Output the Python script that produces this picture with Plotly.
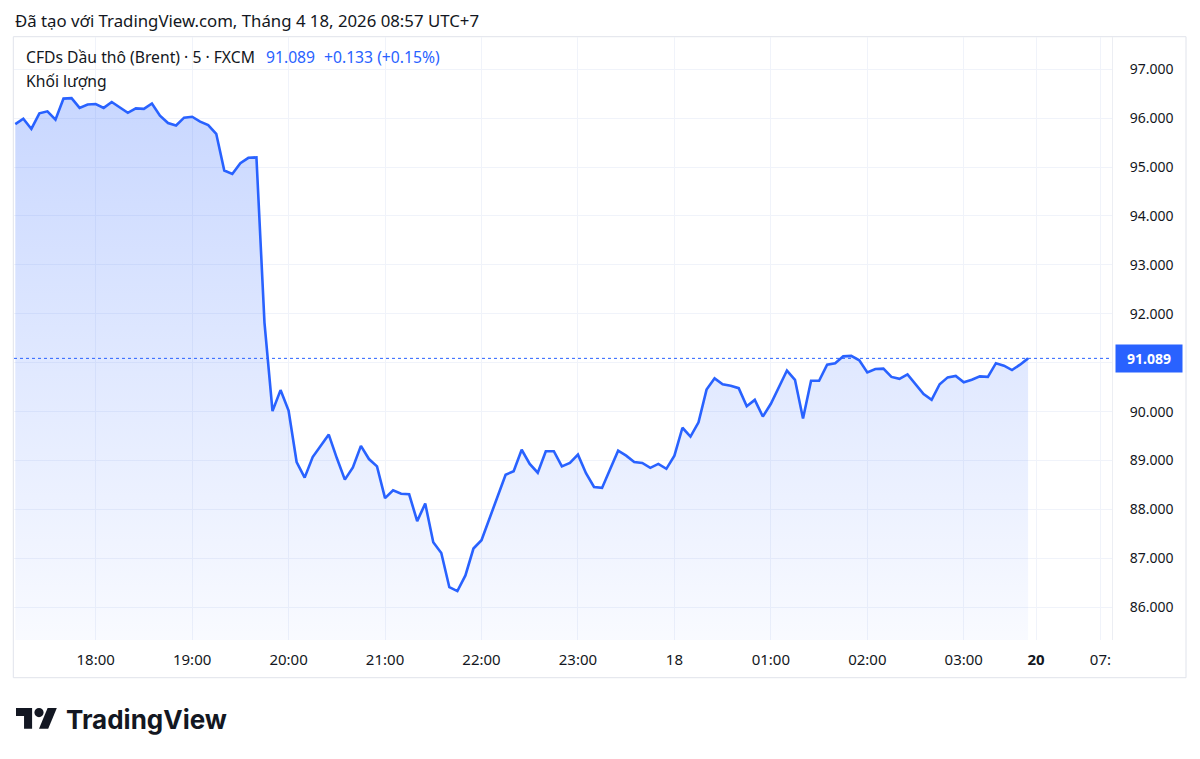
import pandas as pd
import plotly.graph_objects as go

# ---------------- data ----------------
start_time = "2026-04-17 17:10"   # first 5-minute bar
bar_minutes = 5
prices = [
    95.88, 95.99, 95.78, 96.10, 96.14, 95.97, 96.40, 96.41, 96.21, 96.28,
    96.29, 96.21, 96.33, 96.22, 96.11, 96.20, 96.19, 96.30, 96.05, 95.90,
    95.85, 96.01, 96.03, 95.93, 95.86, 95.68, 94.93, 94.86, 95.08, 95.19,
    95.20, 91.82, 90.01, 90.44, 90.02, 88.97, 88.65, 89.07, 89.29, 89.53,
    89.05, 88.61, 88.86, 89.30, 89.03, 88.88, 88.23, 88.39, 88.32, 88.31,
    87.76, 88.12, 87.33, 87.11, 86.41, 86.33, 86.65, 87.20, 87.37, 87.82,
    88.26, 88.71, 88.78, 89.22, 88.93, 88.75, 89.19, 89.19, 88.88, 88.95,
    89.12, 88.74, 88.46, 88.44, 88.82, 89.20, 89.10, 88.97, 88.95, 88.85,
    88.93, 88.83, 89.10, 89.67, 89.49, 89.78, 90.45, 90.68, 90.56, 90.53,
    90.48, 90.11, 90.24, 89.90, 90.16, 90.51, 90.84, 90.65, 89.86, 90.63,
    90.63, 90.96, 90.99, 91.13, 91.14, 91.05, 90.80, 90.87, 90.88, 90.71,
    90.67, 90.76, 90.56, 90.36, 90.24, 90.56, 90.70, 90.73, 90.60, 90.65,
    90.72, 90.71, 90.99, 90.94, 90.85, 90.96, 91.089,
]
last_price = 91.089
change_text = "+0.133 (+0.15%)"

# time-axis ticks (TradingView compresses the weekend gap: "20" = Monday)
tick_times = [
    "2026-04-17 18:00", "2026-04-17 19:00", "2026-04-17 20:00",
    "2026-04-17 21:00", "2026-04-17 22:00", "2026-04-17 23:00",
    "2026-04-18 00:00", "2026-04-18 01:00", "2026-04-18 02:00",
    "2026-04-18 03:00", "2026-04-18 03:45", "2026-04-18 04:25",
]
tick_labels = ["18:00", "19:00", "20:00", "21:00", "22:00", "23:00",
               "18", "01:00", "02:00", "03:00", "<b>20</b>", "07:"]
price_ticks = [86, 87, 88, 89, 90, 91, 92, 93, 94, 95, 96, 97]
# the 91.000 label is hidden behind the last-price label in the reference
price_labels = ["86.000", "87.000", "88.000", "89.000", "90.000", "",
                "92.000", "93.000", "94.000", "95.000", "96.000", "97.000"]

header = "Đã tạo với TradingView.com, Tháng 4 18, 2026 08:57 UTC+7"
legend_title = "CFDs Dầu thô (Brent) · 5 · FXCM"
volume_label = "Khối lượng"

# ---------------- styling ----------------
W, H = 1200, 759
L, R, T, B = 14, 1112, 37, 640          # plot area in pixels
BLUE = "#2962FF"
TEXT = "#131722"
FONT = "Noto Sans"

times = pd.date_range(start_time, periods=len(prices), freq=f"{bar_minutes}min")
x0 = pd.Timestamp(start_time) - pd.Timedelta(minutes=0.8)
x1 = x0 + pd.Timedelta(minutes=683.0)


def px(x):
    return (x - L) / (R - L)


def py(y):
    return (B - y) / (B - T)


fig = go.Figure()
fig.add_trace(go.Scatter(
    x=times, y=prices, mode="lines",
    line=dict(color=BLUE, width=2.6),
    fill="tozeroy",
    fillgradient=dict(type="vertical", start=85.33, stop=97.66,
                      colorscale=[[0, "rgba(41,98,255,0.03)"],
                                  [1, "rgba(41,98,255,0.28)"]]),
    hoverinfo="skip", showlegend=False,
))

shapes = [
    # outer frame
    dict(type="rect", xref="paper", yref="paper",
         x0=px(13.3), x1=px(1186), y0=py(677.7), y1=py(36.7),
         line=dict(color="#e0e3eb", width=1), layer="below"),
    # last price dotted line
    dict(type="line", xref="paper", yref="y", x0=0, x1=1,
         y0=last_price, y1=last_price,
         line=dict(color=BLUE, width=1, dash="dot")),
]

# TradingView logo icon (36x28 viewBox mark)
s, ox, oy = 1.15, 16, 708 - 4 * 1.15


def P(u, v):
    return f"{px(ox + s * u):.5f},{py(oy + s * v):.5f}"


t_path = ("M" + P(14, 22) + " L" + P(7, 22) + " L" + P(7, 11) + " L" + P(0, 11)
          + " L" + P(0, 4) + " L" + P(14, 4) + " Z")
slash_path = ("M" + P(28, 22) + " L" + P(20, 22) + " L" + P(27.5, 4)
              + " L" + P(35.5, 4) + " Z")
shapes += [
    dict(type="path", xref="paper", yref="paper", path=t_path,
         fillcolor=TEXT, line=dict(width=0)),
    dict(type="path", xref="paper", yref="paper", path=slash_path,
         fillcolor=TEXT, line=dict(width=0)),
    dict(type="circle", xref="paper", yref="paper",
         x0=px(ox + s * 16), x1=px(ox + s * 24),
         y0=py(oy + s * 12), y1=py(oy + s * 4),
         fillcolor=TEXT, line=dict(width=0)),
]

annotations = [
    dict(text=header, x=px(13.3), y=py(20.7), xref="paper", yref="paper",
         xanchor="left", yanchor="middle", showarrow=False,
         font=dict(family=FONT, size=16.8, color=TEXT)),
    dict(text=legend_title, x=px(24), y=py(57), xref="paper", yref="paper",
         xanchor="left", yanchor="middle", showarrow=False,
         font=dict(family=FONT, size=15.7, color=TEXT)),
    dict(text=f"{last_price:.3f}", x=px(264), y=py(57), xref="paper", yref="paper",
         xanchor="left", yanchor="middle", showarrow=False,
         font=dict(family=FONT, size=15.7, color=BLUE)),
    dict(text=change_text, x=px(321.7), y=py(57), xref="paper", yref="paper",
         xanchor="left", yanchor="middle", showarrow=False,
         font=dict(family=FONT, size=15.7, color=BLUE)),
    dict(text=volume_label, x=px(24), y=py(81), xref="paper", yref="paper",
         xanchor="left", yanchor="middle", showarrow=False,
         font=dict(family=FONT, size=15.7, color=TEXT)),
    # last price label on the price scale
    dict(text=f"<b>{last_price:.3f}</b>", x=1, y=last_price, xref="paper", yref="y",
         xanchor="left", yanchor="middle", xshift=3, showarrow=False,
         bgcolor=BLUE, borderpad=4, width=58,
         font=dict(family=FONT, size=14, color="white")),
    # wordmark
    dict(text="<b>TradingView</b>", x=px(64), y=py(719), xref="paper", yref="paper",
         xanchor="left", yanchor="middle", showarrow=False,
         font=dict(family="Inter", size=26, color=TEXT)),
]

fig.update_layout(
    width=W, height=H,
    margin=dict(l=L, r=W - R, t=T, b=H - B),
    paper_bgcolor="white", plot_bgcolor="white",
    shapes=shapes, annotations=annotations,
    xaxis=dict(type="date", range=[x0, x1], tickmode="array",
               tickvals=pd.to_datetime(tick_times), ticktext=tick_labels,
               showgrid=True, gridcolor="#f0f3fa", gridwidth=1,
               zeroline=False, showline=False, ticks="",
               ticklabelstandoff=9,
               tickfont=dict(family=FONT, size=15, color=TEXT)),
    yaxis=dict(side="right", range=[85.33, 97.66], tickmode="array",
               tickvals=price_ticks, ticktext=price_labels,
               showgrid=True, gridcolor="#f0f3fa", gridwidth=1,
               zeroline=False, showline=True, linecolor="#eceef3", linewidth=1,
               ticks="", ticklabelstandoff=14,
               tickfont=dict(family=FONT, size=14, color=TEXT)),
)

fig.write_html(
    "out.html",
    config={"displayModeBar": False},
    post_script="document.body.style.margin='0';document.body.style.overflow='hidden';",
)
